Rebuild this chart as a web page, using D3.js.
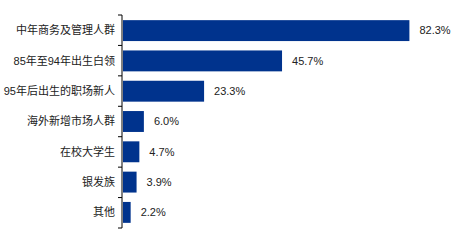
<!DOCTYPE html>
<html>
<head>
<meta charset="utf-8">
<script src="https://cdn.jsdelivr.net/npm/d3@7"></script>
<style>
  body { margin: 0; background: #fff; }
  svg text { font-family: "Liberation Sans", Arial, "Noto Sans CJK SC", sans-serif; fill: #222; }
</style>
</head>
<body>
<div id="chart"></div>
<script>
// Data
const categories = ['中年商务及管理人群', '85年至94年出生白领', '95年后出生的职场新人', '海外新增市场人群', '在校大学生', '银发族', '其他'];
const values = [82.3, 45.7, 23.3, 6.0, 4.7, 3.9, 2.2];

const width = 464;
const height = 240;
const margin = { top: 15, right: 20, bottom: 12, left: 122 };

const svg = d3.select('#chart')
  .append('svg')
    .attr('width', width)
    .attr('height', height);

const y = d3.scaleBand()
  .domain(categories)
  .range([margin.top, height - margin.bottom])
  .paddingInner(0.31)
  .paddingOuter(0.17);

const x = d3.scaleLinear()
  .domain([0, 100])
  .range([margin.left + 1, margin.left + 1 + 348]);

// Bars
svg.append('g')
  .selectAll('rect')
  .data(values)
  .join('rect')
    .attr('x', x(0))
    .attr('y', (d, i) => y(categories[i]))
    .attr('width', d => x(d) - x(0))
    .attr('height', y.bandwidth())
    .attr('fill', '#00338d');

// Value labels
svg.append('g')
  .selectAll('text')
  .data(values)
  .join('text')
    .attr('x', d => x(d) + 10)
    .attr('y', (d, i) => y(categories[i]) + y.bandwidth() / 2)
    .attr('dy', '0.35em')
    .attr('font-size', 11)
    .text(d => d.toFixed(1) + '%');

// Left axis: vertical line with ticks between the bands
const axis = svg.append('g');
const plotH = height - margin.bottom - margin.top;
axis.append('line')
  .attr('x1', margin.left).attr('x2', margin.left)
  .attr('y1', margin.top).attr('y2', height - margin.bottom)
  .attr('stroke', '#000');
axis.selectAll('.tick')
  .data(d3.range(categories.length + 1))
  .join('line')
    .attr('class', 'tick')
    .attr('x1', margin.left - 4).attr('x2', margin.left)
    .attr('y1', i => margin.top + i * plotH / categories.length)
    .attr('y2', i => margin.top + i * plotH / categories.length)
    .attr('stroke', '#000');

// Category labels
axis.selectAll('.cat')
  .data(categories)
  .join('text')
    .attr('class', 'cat')
    .attr('x', margin.left - 7)
    .attr('y', d => y(d) + y.bandwidth() / 2)
    .attr('dy', '0.35em')
    .attr('text-anchor', 'end')
    .attr('font-size', 11)
    .text(d => d);
</script>
</body>
</html>
